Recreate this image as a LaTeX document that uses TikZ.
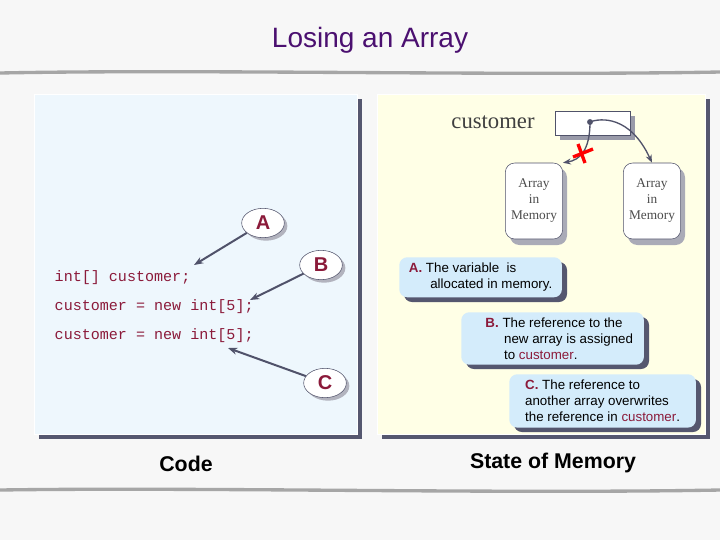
\documentclass[tikz,border=0pt]{standalone}
\usepackage{fontspec}
\setmainfont{Liberation Sans}
\newfontfamily\serifF{Liberation Serif}
\newfontfamily\monoF{Liberation Mono}
\usetikzlibrary{shapes.geometric,arrows.meta}
\definecolor{ttl}{HTML}{4B1070}
\definecolor{cred}{HTML}{8B1A3A}
\definecolor{shd}{HTML}{55576F}
\definecolor{lpan}{HTML}{EEF7FD}
\definecolor{rpan}{HTML}{FFFFE6}
\definecolor{lbox}{HTML}{D4ECFB}
\definecolor{arr}{HTML}{50526A}
\tikzset{
 lbl/.style={ellipse,draw=arr,fill=white,minimum width=32pt,minimum height=22pt,inner sep=0pt,font=\bfseries\fontsize{15}{15}\selectfont,text=cred},
 lsh/.style={ellipse,fill=shd!45,minimum width=32pt,minimum height=22pt,inner sep=0pt},
 mem/.style={rounded corners=7pt,draw=arr,fill=white,minimum width=43pt,minimum height=57pt,align=center,font=\serifF\fontsize{10}{12}\selectfont,text=black!70},
 note/.style={rounded corners=6pt,fill=lbox,align=left,anchor=north west,inner sep=4pt,font=\fontsize{10}{12}\selectfont},
 code/.style={anchor=west,font=\monoF\fontsize{11.3}{11.3}\selectfont,text=cred},
 pt/.style={-{Stealth[length=7pt]},draw=arr,line width=1.5pt},
}
\begin{document}
\begin{tikzpicture}[x=0.75pt,y=-0.75pt]
\useasboundingbox (0,0) rectangle (720,540);
\fill[black!3] (0,0) rectangle (720,540);
\node[font=\fontsize{21}{21}\selectfont,text=ttl] (t) at (370,40) {Losing an Array};
\draw[black!35,line width=2.5pt] (0,73) .. controls (200,69) and (500,76) .. (720,72);
\draw[black!35,line width=2.5pt] (0,490) .. controls (200,487) and (500,494) .. (720,490);
% panels
\fill[shd] (39,99) rectangle (362,439);
\fill[lpan,draw=white] (34,94) rectangle (357,434);
\fill[shd] (382,99) rectangle (710,439);
\fill[rpan,draw=white] (377,94) rectangle (705,434);
% code
\node[code] (c1) at (50,278) {int[] customer;};
\node[code] (c2) at (50,307) {customer = new int[5];};
\node[code] (c3) at (50,336) {customer = new int[5];};
\node[lsh] (As) at (266,226) {};
\node[lsh] (Bs) at (324,268) {};
\node[lsh] (Cs) at (328,386) {};
\node[lbl] (A) at (263,223) {A};
\node[lbl] (B) at (321,265) {B};
\node[lbl] (C) at (325,383) {C};
\coordinate (ea) at (194,265);
\coordinate (eb) at (250,300);
\coordinate (ec) at (228,348);
\draw[pt] (A) -- (ea);
\draw[pt] (B) -- (eb);
\draw[pt] (C) -- (ec);
\node[font=\bfseries\fontsize{16}{16}\selectfont] (code) at (186,464) {Code};
\node[font=\bfseries\fontsize{16}{16}\selectfont] (som) at (553,463) {State of Memory};
% memory
\node[font=\serifF\fontsize{17}{17}\selectfont,text=black!75] (cust) at (493,122) {customer};
\fill[shd!60] (560,116) rectangle (635,140);
\node[draw=arr,fill=white,minimum width=56pt,minimum height=18pt,inner sep=0pt] (var) at (592.5,123) {};
\fill[shd!50,rounded corners=7pt] (510,168) rectangle (567,245);
\fill[shd!50,rounded corners=7pt] (628,168) rectangle (685,245);
\node[mem] (m1) at (534,201) {Array\\in\\Memory};
\node[mem] (m2) at (652,201) {Array\\in\\Memory};
\coordinate (d) at (590,122);
\fill[arr] (d) circle (2.2pt);
\draw[arr,line width=1pt,-{Stealth[length=6pt]}] (d) .. controls (590,150) and (580,160) .. (m1.north east);
\draw[arr,line width=1pt,-{Stealth[length=6pt]}] (d) .. controls (600,118) and (630,115) .. (m2.north);
\draw[red,line width=2.5pt] (578,144) -- (585,163);
\draw[red,line width=2.5pt] (573,157) -- (593,149);
% notes
\fill[shd,rounded corners=6pt] (404,262) rectangle (567,302);
\node[note,minimum width=122pt,minimum height=30pt] (na) at (399,257) {\textcolor{cred}{\textbf{A.}} The variable\ \ is\\\hspace*{16pt}allocated in memory.};
\fill[shd,rounded corners=6pt] (466,317) rectangle (649,369);
\node[note,minimum width=137pt,minimum height=39pt] (nb) at (461,312) {\hspace*{10pt}\textcolor{cred}{\textbf{B.}} The reference to the\\\hspace*{24pt}new array is assigned\\\hspace*{24pt}to \textcolor{cred}{customer}.};
\fill[shd,rounded corners=6pt] (514,379) rectangle (701,432);
\node[note,minimum width=140pt,minimum height=40pt] (nc) at (509,374) {\textcolor{cred}{\textbf{C.}} The reference to\\another array overwrites\\the reference in \textcolor{cred}{customer}.};
\end{tikzpicture}
\end{document}
